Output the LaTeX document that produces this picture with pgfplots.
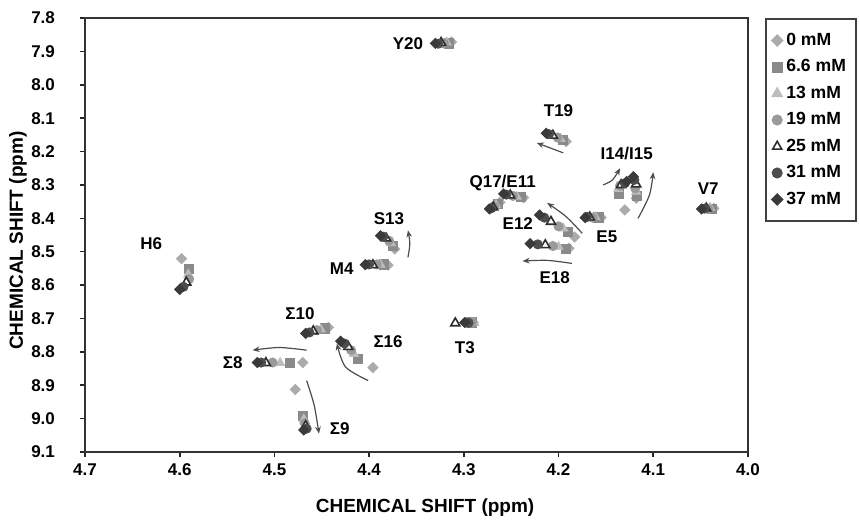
\documentclass[border=0pt]{standalone}
\usepackage{fontspec}
\setmainfont{Liberation Sans}
\usepackage{pgfplots}
\pgfplotsset{compat=1.18}
\usetikzlibrary{arrows.meta}
\definecolor{c0}{HTML}{ABABAB}
\definecolor{c1}{HTML}{8A8A8A}
\definecolor{c2}{HTML}{BDBDBD}
\definecolor{c3}{HTML}{9A9A9A}
\definecolor{c4}{HTML}{2E2E2E}
\definecolor{c5}{HTML}{4D4D4D}
\definecolor{c6}{HTML}{3A3A3A}
\pgfplotsset{every y tick label/.append style={xshift=-9pt}}
\begin{document}
\begin{tikzpicture}
\begin{axis}[
  at={(0,0)}, anchor=south west,
  scale only axis, width=331.5pt, height=217pt,
  xmin=4.0, xmax=4.7, ymin=7.8, ymax=9.1,
  x dir=reverse, y dir=reverse,
  xtick={4.0,4.1,4.2,4.3,4.4,4.5,4.6,4.7},
  ytick={7.8,7.9,8.0,8.1,8.2,8.3,8.4,8.5,8.6,8.7,8.8,8.9,9.0,9.1},
  xticklabel style={/pgf/number format/.cd, fixed, fixed zerofill, precision=1, assume math mode=true},
  yticklabel style={/pgf/number format/.cd, fixed, fixed zerofill, precision=1, assume math mode=true},
  tick align=outside, major tick length=2.5pt,
  tick style={black!85, line width=0.8pt},
  xtick pos=left, ytick pos=left,
  axis line style={black!80, line width=1.2pt},
  ticklabel style={font=\bfseries\fontsize{8.5}{10}\selectfont},
  xlabel={CHEMICAL SHIFT (ppm)}, ylabel={CHEMICAL SHIFT (ppm)},
  label style={font=\bfseries\fontsize{9.5}{11}\selectfont},
  xlabel style={at={(axis description cs:0.513,-0.129)}, anchor=center},
  ylabel style={at={(axis description cs:-0.101,0.487)}, anchor=center},
  legend style={at={(axis description cs:1.026,1)}, anchor=north west,
    draw=black!75, line width=0.9pt, font=\bfseries\fontsize{8.8}{10}\selectfont,
    inner xsep=3pt, inner ysep=5pt, row sep=1.6pt, cells={anchor=west}},
  legend cell align=left,
]
% 0 mM
\addplot[only marks, mark=square*, mark size=1.8pt, mark options={rotate=45, fill=c0, draw=c0}] table {
4.598 8.521
4.313 7.872
4.192 8.170
4.130 8.375
4.118 8.340
4.036 8.370
4.262 8.352
4.237 8.338
4.183 8.456
4.189 8.490
4.155 8.398
4.373 8.492
4.380 8.540
4.290 8.712
4.443 8.727
4.396 8.847
4.470 8.832
4.478 8.913
};
\addlegendentry{0 mM}
% 6.6 mM
\addplot[only marks, mark=square*, mark size=2.3pt, mark options={fill=c1, draw=c1}] table {
4.590 8.552
4.316 7.876
4.195 8.166
4.136 8.326
4.117 8.332
4.038 8.372
4.264 8.356
4.240 8.336
4.190 8.440
4.192 8.492
4.158 8.397
4.375 8.482
4.384 8.538
4.292 8.712
4.447 8.730
4.412 8.822
4.484 8.832
4.470 8.992
};
\addlegendentry{6.6 mM}
% 13 mM
\addplot[only marks, mark=triangle*, mark size=2.6pt, mark options={fill=c2, draw=c2}] table {
4.591 8.568
4.318 7.873
4.198 8.162
4.137 8.312
4.118 8.320
4.040 8.368
4.266 8.360
4.244 8.335
4.195 8.430
4.200 8.485
4.161 8.396
4.377 8.474
4.388 8.539
4.289 8.713
4.451 8.733
4.416 8.806
4.494 8.833
4.469 9.002
};
\addlegendentry{13 mM}
% 19 mM
\addplot[only marks, mark=*, mark size=2.3pt, mark options={fill=c3, draw=c3}] table {
4.590 8.582
4.321 7.876
4.201 8.158
4.135 8.302
4.119 8.310
4.042 8.372
4.268 8.364
4.248 8.333
4.200 8.424
4.206 8.483
4.164 8.398
4.379 8.467
4.392 8.538
4.291 8.711
4.455 8.735
4.419 8.795
4.502 8.832
4.468 9.014
};
\addlegendentry{19 mM}
% 25 mM
\addplot[only marks, mark=triangle*, mark size=2.6pt, mark options={fill=white, draw=c4, line width=0.8pt}] table {
4.593 8.592
4.324 7.874
4.206 8.152
4.134 8.300
4.118 8.298
4.044 8.370
4.269 8.367
4.251 8.331
4.208 8.410
4.214 8.480
4.167 8.397
4.382 8.460
4.396 8.540
4.309 8.714
4.459 8.738
4.422 8.785
4.509 8.833
4.467 9.022
};
\addlegendentry{25 mM}
% 31 mM
\addplot[only marks, mark=*, mark size=2.3pt, mark options={fill=c5, draw=c5}] table {
4.596 8.605
4.327 7.877
4.210 8.148
4.130 8.295
4.120 8.285
4.046 8.371
4.271 8.370
4.255 8.329
4.215 8.398
4.222 8.478
4.170 8.396
4.385 8.455
4.400 8.538
4.295 8.713
4.463 8.742
4.426 8.775
4.514 8.832
4.466 9.030
};
\addlegendentry{31 mM}
% 37 mM
\addplot[only marks, mark=square*, mark size=1.8pt, mark options={rotate=45, fill=c6, draw=c6}] table {
4.600 8.613
4.330 7.876
4.213 8.145
4.128 8.290
4.121 8.275
4.049 8.372
4.273 8.372
4.258 8.327
4.220 8.390
4.230 8.476
4.172 8.398
4.388 8.452
4.404 8.539
4.299 8.712
4.467 8.745
4.430 8.768
4.518 8.832
4.469 9.034
};
\addlegendentry{37 mM}
% arrows
\addplot[forget plot, smooth, line width=0.6pt, color=black!70, -{Stealth[length=3.5pt,width=2.8pt]}] coordinates {(4.195,8.204) (4.223,8.174)};
\addplot[forget plot, smooth, line width=0.6pt, color=black!70, -{Stealth[length=3.5pt,width=2.8pt]}] coordinates {(4.153,8.300) (4.143,8.285) (4.135,8.250)};
\addplot[forget plot, smooth, line width=0.6pt, color=black!70, -{Stealth[length=3.5pt,width=2.8pt]}] coordinates {(4.116,8.400) (4.104,8.330) (4.100,8.262)};
\addplot[forget plot, smooth, line width=0.6pt, color=black!70, -{Stealth[length=3.5pt,width=2.8pt]}] coordinates {(4.175,8.445) (4.192,8.395) (4.212,8.354)};
\addplot[forget plot, smooth, line width=0.6pt, color=black!70, -{Stealth[length=3.5pt,width=2.8pt]}] coordinates {(4.186,8.535) (4.212,8.526) (4.238,8.528)};
\addplot[forget plot, smooth, line width=0.6pt, color=black!70, -{Stealth[length=3.5pt,width=2.8pt]}] coordinates {(4.359,8.517) (4.357,8.475) (4.359,8.436)};
\addplot[forget plot, smooth, line width=0.6pt, color=black!70, -{Stealth[length=3.5pt,width=2.8pt]}] coordinates {(4.466,8.795) (4.495,8.787) (4.523,8.795)};
\addplot[forget plot, smooth, line width=0.6pt, color=black!70, -{Stealth[length=3.5pt,width=2.8pt]}] coordinates {(4.401,8.886) (4.425,8.845) (4.434,8.775)};
\addplot[forget plot, smooth, line width=0.6pt, color=black!70, -{Stealth[length=3.5pt,width=2.8pt]}] coordinates {(4.466,8.886) (4.458,8.960) (4.453,9.045)};
% labels
\begin{scope}[every node/.style={font=\bfseries\fontsize{8.5}{10}\selectfont, inner sep=0pt}]
\node at (axis cs:4.359,7.877) {Y20};
\node at (axis cs:4.200,8.078) {T19};
\node at (axis cs:4.128,8.205) {I14/I15};
\node at (axis cs:4.042,8.310) {V7};
\node at (axis cs:4.259,8.294) {Q17/E11};
\node at (axis cs:4.243,8.415) {E12};
\node at (axis cs:4.149,8.454) {E5};
\node at (axis cs:4.204,8.577) {E18};
\node at (axis cs:4.379,8.400) {S13};
\node at (axis cs:4.429,8.551) {M4};
\node at (axis cs:4.630,8.475) {H6};
\node at (axis cs:4.473,8.686) {Σ10};
\node at (axis cs:4.380,8.769) {Σ16};
\node at (axis cs:4.544,8.832) {Σ8};
\node at (axis cs:4.431,9.031) {Σ9};
\node at (axis cs:4.299,8.786) {T3};
\end{scope}
\end{axis}
\pgfresetboundingbox
\path[use as bounding box] (-42.5pt,-39pt) rectangle (387pt,226pt);
\end{tikzpicture}
\end{document}
